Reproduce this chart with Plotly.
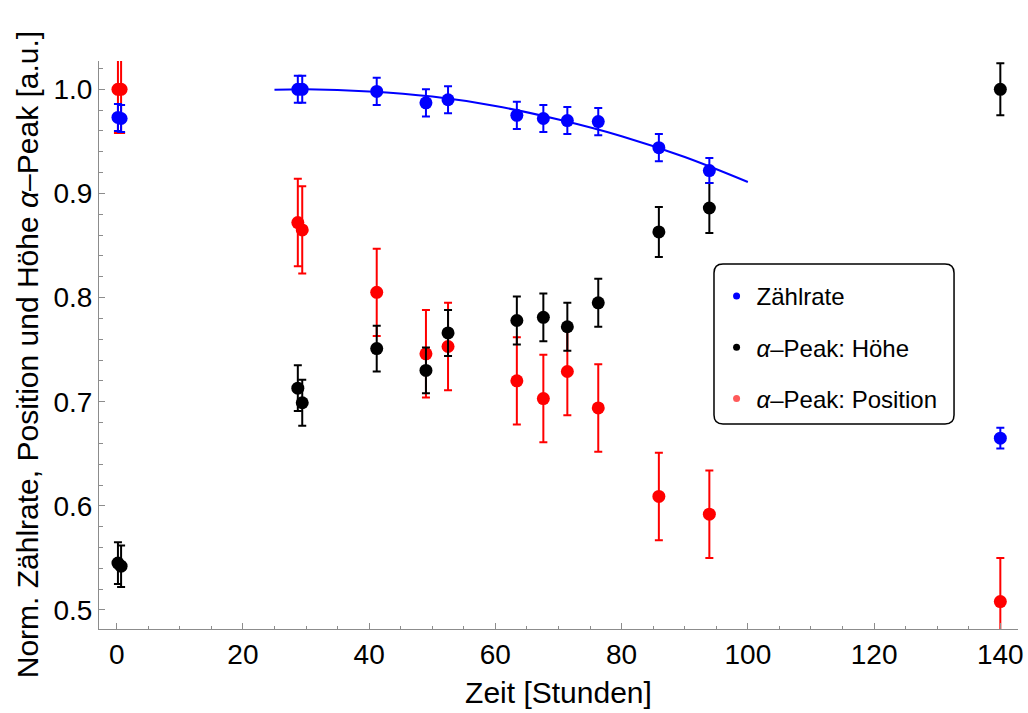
import plotly.graph_objects as go

# ---- data ----
hours = [0.2, 0.7, 28.7, 29.4, 41.2, 49.0, 52.5, 63.4, 67.6, 71.4, 76.3, 85.9, 93.9, 140.0]

rate = [0.973, 0.972, 1.000, 1.000, 0.998, 0.987, 0.990, 0.975, 0.972, 0.970, 0.969, 0.944, 0.922, 0.665]
rate_err = [0.013, 0.013, 0.013, 0.013, 0.013, 0.013, 0.013, 0.013, 0.013, 0.013, 0.013, 0.013, 0.012, 0.010]

height = [0.545, 0.542, 0.713, 0.699, 0.751, 0.730, 0.766, 0.778, 0.781, 0.772, 0.795, 0.863, 0.886, 1.000]
height_err = [0.020, 0.020, 0.022, 0.022, 0.022, 0.022, 0.022, 0.023, 0.023, 0.023, 0.023, 0.024, 0.024, 0.025]

position = [1.000, 1.000, 0.872, 0.865, 0.805, 0.746, 0.753, 0.720, 0.703, 0.729, 0.694, 0.609, 0.592, 0.508]
position_err = [0.042] * 14

fit_x = [25, 30, 40, 50, 60, 70, 80, 90, 100]
fit_y = [0.9995, 1.000, 0.998, 0.993, 0.984, 0.971, 0.955, 0.935, 0.911]

legend_names = ["Zählrate", "<i>α</i>–Peak: Höhe", "<i>α</i>–Peak: Position"]

FONT = "Liberation Sans, Arial, sans-serif"
BLUE = "rgb(0,0,255)"
BLACK = "rgb(0,0,0)"
RED = "rgb(255,0,0)"

fig = go.Figure()


def series(y, err, color):
    return go.Scatter(
        x=hours, y=y, mode="markers", showlegend=False,
        marker=dict(color=color, size=13),
        error_y=dict(type="data", array=err, color=color, thickness=2, width=4),
        hoverinfo="x+y",
    )


fig.add_trace(series(position, position_err, RED))
fig.add_trace(series(height, height_err, BLACK))
fig.add_trace(series(rate, rate_err, BLUE))
fig.add_trace(go.Scatter(x=fit_x, y=fit_y, mode="lines", line=dict(color=BLUE, width=2, shape="spline"),
                         showlegend=False, hoverinfo="skip"))

# legend entries (small dots as in the reference)
for name, col, grp in zip(legend_names, [BLUE, BLACK, "rgb(255,90,90)"], ["a", "b", "c"]):
    fig.add_trace(go.Scatter(x=[None], y=[None], mode="markers", name=name, legendgroup=grp,
                             marker=dict(color=col, size=7)))

# rounded legend frame (paper coords)
L, R, B, T = 0.6692, 0.9304, 0.3609, 0.6426
rx, ry = 0.0098, 0.0158
path = (f"M {L+rx},{T} L {R-rx},{T} Q {R},{T} {R},{T-ry} L {R},{B+ry} Q {R},{B} {R-rx},{B} "
        f"L {L+rx},{B} Q {L},{B} {L},{B+ry} L {L},{T-ry} Q {L},{T} {L+rx},{T} Z")
fig.add_shape(type="path", path=path, xref="paper", yref="paper",
              line=dict(color="black", width=1.5), fillcolor="rgba(0,0,0,0)", layer="above")

fig.update_layout(
    width=1028, height=713,
    margin=dict(l=99, r=10, t=61, b=84, autoexpand=False),
    paper_bgcolor="white", plot_bgcolor="white",
    font=dict(family=FONT, color="black"),
    legend=dict(x=0.672, y=0.625, xanchor="left", yanchor="top", bgcolor="rgba(0,0,0,0)",
                font=dict(size=24, family=FONT), tracegroupgap=17, traceorder="grouped"),
    annotations=[dict(text="Norm. Zählrate, Position und Höhe <i>α</i>–Peak [a.u.]",
                      xref="paper", yref="paper", x=-0.0783, y=0.482, textangle=-90,
                      showarrow=False, font=dict(size=30, family=FONT), xanchor="center", yanchor="middle")],
)

fig.update_xaxes(
    range=[-2.8, 142.8], showgrid=False, zeroline=False,
    showline=True, linecolor="rgb(140,140,140)", linewidth=1,
    ticks="inside", ticklen=6, tickcolor="rgb(140,140,140)", tickwidth=1,
    tickmode="array", tickvals=[0, 20, 40, 60, 80, 100, 120, 140],
    minor=dict(ticks="inside", ticklen=3.5, dtick=5, tick0=0, tickcolor="rgb(140,140,140)"),
    tickfont=dict(size=28, family=FONT),
    title=dict(text="Zeit [Stunden]", font=dict(size=30, family=FONT), standoff=13),
)
fig.update_yaxes(
    range=[0.4817, 1.0272], showgrid=False, zeroline=False,
    showline=True, linecolor="rgb(140,140,140)", linewidth=1,
    ticks="inside", ticklen=6, tickcolor="rgb(140,140,140)", tickwidth=1,
    tickmode="array", tickvals=[0.5, 0.6, 0.7, 0.8, 0.9, 1.0], ticktext=["0.5", "0.6", "0.7", "0.8", "0.9", "1.0"],
    minor=dict(ticks="inside", ticklen=3.5, dtick=0.02, tick0=0.5, tickcolor="rgb(140,140,140)"),
    tickfont=dict(size=28, family=FONT),
)

fig.write_html("out.html")
